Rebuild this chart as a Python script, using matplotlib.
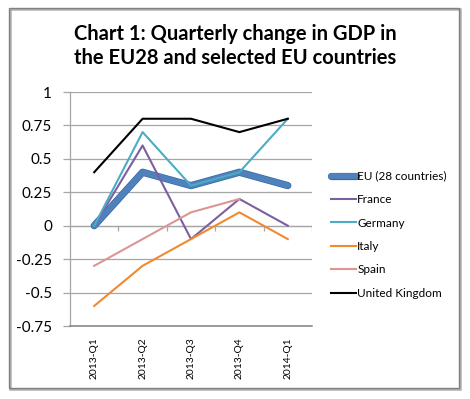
import matplotlib
matplotlib.use("Agg")

import matplotlib.pyplot as plt
import matplotlib.patheffects as pe
import numpy as np
from matplotlib.patches import Rectangle

plt.rcParams["font.family"] = ["Lato", "DejaVu Sans"]

# Data
quarters = ["2013-Q1", "2013-Q2", "2013-Q3", "2013-Q4", "2014-Q1"]
eu28 = [0.0, 0.4, 0.3, 0.4, 0.3]
france = [0.0, 0.6, -0.1, 0.2, 0.0]
germany = [0.0, 0.7, 0.3, 0.4, 0.8]
italy = [-0.6, -0.3, -0.1, 0.1, -0.1]
spain = [-0.3, -0.1, 0.1, 0.2, np.nan]
uk = [0.4, 0.8, 0.8, 0.7, 0.8]

y_ticks = [1, 0.75, 0.5, 0.25, 0, -0.25, -0.5, -0.75]
y_tick_labels = ["1", "0.75", "0.5", "0.25", "0", "-0.25", "-0.5", "-0.75"]

W, H = 470, 399
fig = plt.figure(figsize=(W / 100, H / 100), dpi=100)

# outer chart frame with a small shadow
fig.patches.append(Rectangle((10 / W, 1 - 389 / H), 450 / W, 380 / H,
                             transform=fig.transFigure, fill=False,
                             edgecolor="#b0b0b0", lw=1.8))
fig.patches.append(Rectangle((9 / W, 1 - 388 / H), 450 / W, 380 / H,
                             transform=fig.transFigure, fill=False,
                             edgecolor="#808080", lw=1.0))

fig.text(0.5, 1 - 34 / H, "Chart 1: Quarterly change in GDP in",
         ha="center", va="center", fontsize=14.5, fontweight="bold")
fig.text(0.5, 1 - 58 / H, "the EU28 and selected EU countries",
         ha="center", va="center", fontsize=14.5, fontweight="bold")

ax = fig.add_axes([70 / W, 1 - 326 / H, 242 / W, 234 / H])
x = np.arange(len(quarters))

ax.plot(x, eu28, color="#4f81bd", lw=4.2, solid_capstyle="round",
        path_effects=[pe.Stroke(linewidth=5.2, foreground="#3a6aa5"), pe.Normal()],
        label="EU (28 countries)", zorder=3)
ax.plot(x, france, color="#7d5fa0", lw=1.5, label="France", zorder=4)
ax.plot(x, germany, color="#4bacc6", lw=1.5, label="Germany", zorder=4)
ax.plot(x, italy, color="#f08a30", lw=1.5, label="Italy", zorder=4)
ax.plot(x, spain, color="#da9694", lw=1.5, label="Spain", zorder=4)
ax.plot(x, uk, color="black", lw=1.5, label="United Kingdom", zorder=4)

ax.set_xlim(-0.5, len(quarters) - 0.5)
ax.set_ylim(-0.75, 1)

# horizontal axis crossing at zero, ticks between categories
ax.axhline(0, color="#a6a6a6", lw=0.9, zorder=1)
ax.vlines(np.arange(len(quarters)) + 0.5, -0.037, 0, color="#a6a6a6", lw=0.9, zorder=1)

ax.set_yticks(y_ticks)
ax.set_yticklabels(y_tick_labels, fontsize=11)
ax.set_xticks(x)
ax.set_xticklabels(quarters, rotation=90, rotation_mode="anchor",
                   ha="right", va="center", fontsize=8)
ax.tick_params(axis="x", length=0, pad=8)
ax.tick_params(axis="y", length=5, color="#a6a6a6", width=0.9, pad=8)
ax.grid(axis="y", color="#a6a6a6", lw=0.9)
ax.set_axisbelow(True)

# size the rotated labels so they are about 42 px long, like the original
fig.canvas.draw()
lab = ax.get_xticklabels()[0]
ext = lab.get_window_extent()
scale = 42.0 / ext.height
for t in ax.get_xticklabels():
    t.set_fontsize(8 * scale)

for side in ["top", "right"]:
    ax.spines[side].set_visible(False)
ax.spines["left"].set_color("#a6a6a6")
ax.spines["left"].set_linewidth(0.9)
ax.spines["bottom"].set_color("#808080")
ax.spines["bottom"].set_linewidth(1.1)

ax.legend(loc="upper left", bbox_to_anchor=(326 / W, 1 - 166 / H),
          bbox_transform=fig.transFigure, frameon=False, fontsize=8.5,
          handlelength=2.1, handletextpad=0.15, labelspacing=1.05,
          borderaxespad=0)

fig.savefig("out.png", dpi=100)
plt.close(fig)
